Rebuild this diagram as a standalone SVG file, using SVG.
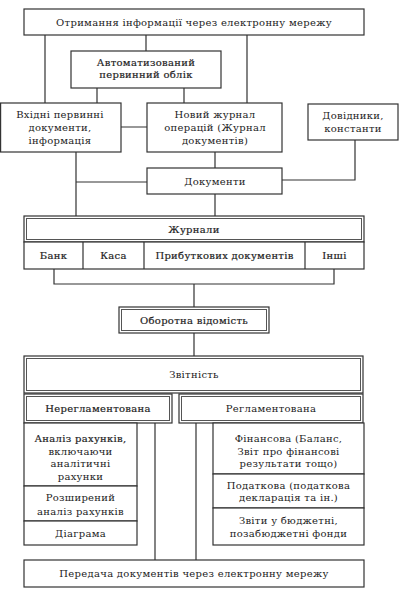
<svg xmlns="http://www.w3.org/2000/svg" width="406" height="600" viewBox="0 0 406 600">
<style>
.b{fill:#fff;stroke:#333;stroke-width:1.2}
.d{fill:none;stroke:#555;stroke-width:1}
.c{fill:none;stroke:#333;stroke-width:1.2}
text{font-family:"DejaVu Serif","Liberation Serif",serif;font-size:10px;fill:#222;text-anchor:middle;letter-spacing:0.3px}
.w{stroke:#222;stroke-width:0.2}
</style>
<rect width="406" height="600" fill="#fff"/>
<g id="connectors">
<path class="c" d="M45,35V103M146,35V51M247,35V103M97,88V103M184,88V103M121,127H147M76,152V216M76,182H147M215,152V168M355,140V180H282M215,194V216M54,269V284H334V269M194,284V307M194,333V356M155,423V560M196,423V560"/>
</g>
<g id="title"><rect class="b" x="24" y="9" width="340" height="26"/><text x="194" y="26">Отримання інформації через електронну мережу</text></g>
<g id="auto"><rect class="b" x="71" y="51" width="150" height="37"/><text class="w" x="146" y="66">Автоматизований</text><text class="w" x="146" y="78">первинний облік</text></g>
<g id="vkhidni"><rect class="b" x="0.6" y="103" width="120.4" height="49"/><text x="60" y="118">Вхідні первинні</text><text x="60" y="131">документи,</text><text x="60" y="144">інформація</text></g>
<g id="novyi"><rect class="b" x="147" y="103" width="135" height="49"/><text x="215" y="118">Новий журнал</text><text x="215" y="131">операцій (Журнал</text><text x="215" y="144">документів)</text></g>
<g id="dovidnyky"><rect class="b" x="308" y="104" width="90" height="36"/><text x="353" y="119">Довідники,</text><text x="353" y="132">константи</text></g>
<g id="dokumenty"><rect class="b" x="147" y="168" width="135" height="26"/><text x="215" y="185">Документи</text></g>
<g id="zhurnaly"><rect class="b" x="24" y="216" width="340" height="26"/><rect class="d" x="26.5" y="218.5" width="335" height="21"/><text class="w" x="194" y="233">Журнали</text></g>
<g id="row"><rect class="b" x="24" y="242" width="340" height="27"/><path class="c" d="M83,242V269M144,242V269M305,242V269"/><text class="w" x="53.5" y="259">Банк</text><text class="w" x="113.5" y="259">Каса</text><text class="w" x="224.5" y="259">Прибуткових документів</text><text class="w" x="334.5" y="259">Інші</text></g>
<g id="oborotna"><rect class="b" x="119" y="307" width="150" height="26"/><rect class="d" x="121.5" y="309.5" width="145" height="21"/><text class="w" x="194" y="324">Оборотна відомість</text></g>
<g id="zvitnist"><rect class="b" x="24" y="356" width="339" height="37"/><rect class="d" x="26.5" y="358.5" width="334" height="32"/><text x="194" y="378">Звітність</text></g>
<g id="nereg"><rect class="b" x="24" y="394" width="148" height="29"/><rect class="d" x="26.5" y="396.5" width="143" height="24"/><text class="w" x="98" y="412">Нерегламентована</text></g>
<g id="reg"><rect class="b" x="179" y="394" width="184" height="29"/><rect class="d" x="181.5" y="396.5" width="179" height="24"/><text x="271" y="412">Регламентована</text></g>
<g id="analiz"><rect class="b" x="24" y="423" width="113" height="63"/><text class="w" x="80.5" y="442">Аналіз рахунків,</text><text x="80.5" y="455">включаючи</text><text x="80.5" y="467">аналітичні</text><text x="80.5" y="480">рахунки</text></g>
<g id="rozsh"><rect class="b" x="24" y="486" width="113" height="35"/><text x="80.5" y="501">Розширений</text><text x="80.5" y="515">аналіз рахунків</text></g>
<g id="diagrama"><rect class="b" x="24" y="521" width="113" height="24"/><text x="80.5" y="537">Діаграма</text></g>
<g id="finansova"><rect class="b" x="213" y="423" width="151" height="51"/><text x="288.5" y="442">Фінансова (Баланс,</text><text x="288.5" y="454.5">Звіт про фінансові</text><text x="288.5" y="467">результати тощо)</text></g>
<g id="podatkova"><rect class="b" x="213" y="474" width="151" height="34"/><text x="288.5" y="489">Податкова (податкова</text><text x="288.5" y="501">декларація та ін.)</text></g>
<g id="zvity"><rect class="b" x="213" y="508" width="151" height="37"/><text x="288.5" y="524">Звіти у бюджетні,</text><text x="288.5" y="537">позабюджетні фонди</text></g>
<g id="peredacha"><rect class="b" x="24" y="560" width="340" height="27"/><text x="194" y="577">Передача документів через електронну мережу</text></g>
</svg>
